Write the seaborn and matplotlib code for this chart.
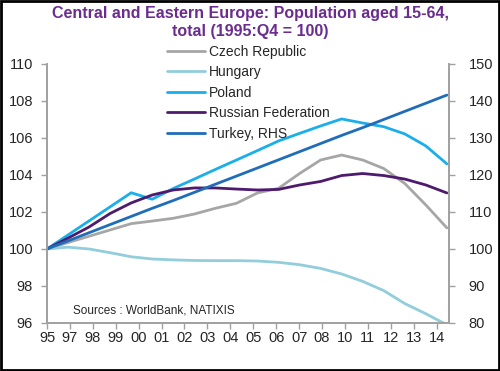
import matplotlib
matplotlib.use("Agg")
import matplotlib.pyplot as plt
import seaborn as sns
import numpy as np
import pandas as pd
from matplotlib.patches import Rectangle

sns.set_style("white")
plt.rcParams['font.family'] = ['Liberation Sans', 'DejaVu Sans']

# annual data, 1995 = 100
years = list(range(1995, 2015))
czech = [100, 100.35, 100.69, 101.03, 101.37, 101.51, 101.66, 101.89, 102.2, 102.47,
         103.03, 103.28, 104.08, 104.81, 105.08, 104.81, 104.35, 103.54, 102.38, 101.14]
hungary = [100, 100.1, 100.0, 99.8, 99.58, 99.46, 99.41, 99.38, 99.37, 99.37,
           99.35, 99.28, 99.15, 98.95, 98.65, 98.25, 97.75, 97.05, 96.5, 95.9]
poland = [100, 100.76, 101.52, 102.28, 103.04, 102.69, 103.27, 103.78, 104.3, 104.81,
          105.32, 105.84, 106.25, 106.65, 107.03, 106.81, 106.61, 106.22, 105.57, 104.6]
russia = [100, 100.59, 101.19, 101.92, 102.49, 102.92, 103.19, 103.3, 103.3, 103.24,
          103.19, 103.22, 103.46, 103.65, 103.97, 104.08, 103.97, 103.78, 103.46, 103.03]
turkey = [100, 102.2, 104.4, 106.6, 108.8, 111.0, 113.1, 115.3, 117.5, 119.7,
          121.9, 124.1, 126.3, 128.5, 130.7, 132.8, 135.0, 137.2, 139.4, 141.6]

tick_labels = ['95', '97', '98', '99', '00', '01', '02', '03', '04', '05', '06',
               '07', '08', '10', '11', '12', '13', '14']

names = ['Czech Republic', 'Hungary', 'Poland', 'Russian Federation']
colors = ['#A6A6A6', '#92CDDC', '#1AAFE8', '#4E1A6E']
turkey_color = '#1F6DB8'
axis_grey = '#A0A0A0'

df_left = pd.DataFrame({
    'year': years * 4,
    'value': czech + hungary + poland + russia,
    'country': sum([[n] * len(years) for n in names], []),
})
df_turkey = pd.DataFrame({'year': years, 'value': turkey})

fig = plt.figure(figsize=(5, 3.71), dpi=100)
ax = fig.add_axes([0.094, 0.1294, 0.804, 0.6981])
ax2 = ax.twinx()

sns.lineplot(data=df_left, x='year', y='value', hue='country', hue_order=names,
             palette=colors, linewidth=2, ax=ax, legend=False)
sns.lineplot(data=df_turkey, x='year', y='value', color=turkey_color,
             linewidth=2, ax=ax2, legend=False)

ax.set_xlim(1995, 2014.1)
ax.set_ylim(96, 110)
ax.set_yticks(range(96, 111, 2))
ax2.set_ylim(80, 150)
ax2.set_yticks(range(80, 151, 10))
ax.set_xticks(np.linspace(1995, 2013.51, len(tick_labels)))
ax.set_xticklabels(tick_labels)
ax.set_xlabel('')
ax.set_ylabel('')
ax2.set_ylabel('')

for a in (ax, ax2):
    a.spines['top'].set_visible(False)
    for side in ('left', 'right', 'bottom'):
        a.spines[side].set_color(axis_grey)
        a.spines[side].set_linewidth(1.2)
    a.tick_params(colors=axis_grey, labelcolor='#262626', labelsize=10.5,
                  length=4, width=1, direction='out', pad=2)
ax.tick_params(axis='y', left=True, right=False, pad=6)
ax.tick_params(axis='x', bottom=True, pad=2)
ax2.tick_params(axis='y', right=True, pad=10)

ax.text(0.065, 0.05, 'Sources : WorldBank, NATIXIS', transform=ax.transAxes,
        fontsize=8.5, color='#262626', va='center')

fig.text(0.5, 0.985, 'Central and Eastern Europe: Population aged 15-64,\ntotal (1995:Q4 = 100)',
         ha='center', va='top', fontsize=11.5, fontweight='bold', color='#6A2C8E',
         linespacing=1.25)

handles = ax.get_lines()[:4] + ax2.get_lines()[:1]
labels = names + ['Turkey, RHS']
fig.legend(handles, labels, loc='upper left', bbox_to_anchor=(0.334, 0.88),
           frameon=False, fontsize=10, handlelength=2.7, handletextpad=0.35,
           labelspacing=0.47, borderpad=0, borderaxespad=0)

fig.add_artist(Rectangle((0.002, 0.003), 0.996, 0.994, transform=fig.transFigure,
                         fill=False, edgecolor='black', linewidth=2))

fig.savefig('out.png', dpi=100)
